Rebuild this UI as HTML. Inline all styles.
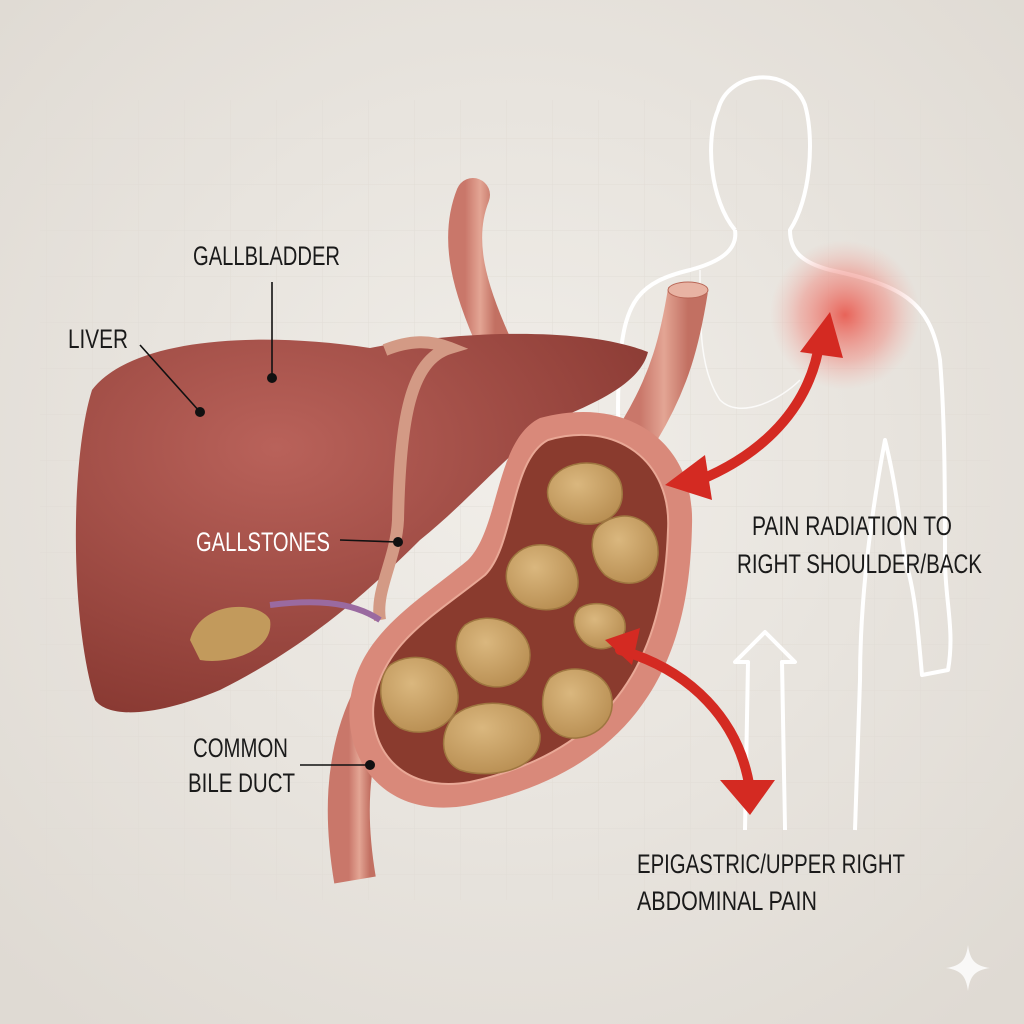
<!DOCTYPE html>
<html><head><meta charset="utf-8"><style>
html,body{margin:0;padding:0;background:#e9e5df}
svg{display:block}
text{font-family:"Liberation Sans",sans-serif;font-size:27px;fill:#1a1a1a}
</style></head><body>
<svg width="1024" height="1024" viewBox="0 0 1024 1024" xmlns="http://www.w3.org/2000/svg">
<defs>
<radialGradient id="bg" cx="50%" cy="45%" r="70%"><stop offset="0" stop-color="#f1eee9"/><stop offset="1" stop-color="#dfdad3"/></radialGradient>
<pattern id="grid" width="46" height="46" patternUnits="userSpaceOnUse"><path d="M46 0H0V46" fill="none" stroke="#e0dbd4" stroke-width="1"/></pattern>
<radialGradient id="glow"><stop offset="0" stop-color="#e8554a" stop-opacity=".9"/><stop offset=".6" stop-color="#ef8a80" stop-opacity=".5"/><stop offset="1" stop-color="#f2b0a8" stop-opacity="0"/></radialGradient>
<radialGradient id="liv" cx="35%" cy="30%" r="75%"><stop offset="0" stop-color="#b9625a"/><stop offset="1" stop-color="#8a3a33"/></radialGradient>
<linearGradient id="tube" x1="0" x2="1"><stop offset="0" stop-color="#c9776a"/><stop offset=".5" stop-color="#e3a594"/><stop offset="1" stop-color="#c27062"/></linearGradient>
<radialGradient id="stone" cx="40%" cy="35%" r="70%"><stop offset="0" stop-color="#dab77e"/><stop offset="1" stop-color="#b88e52"/></radialGradient>
</defs>
<rect width="1024" height="1024" fill="url(#bg)"/>
<rect x="40" y="100" width="950" height="800" fill="url(#grid)" opacity=".8"/>
<!-- body outline -->
<g fill="none" stroke="#fff" stroke-width="4" stroke-linejoin="round">
<path d="M735,230 C710,200 705,140 718,110 C728,70 790,65 805,105 C815,140 810,200 790,230 C790,250 800,262 830,270 C900,285 930,300 940,360 C945,420 945,500 945,560 C945,600 955,630 948,670 L922,675 C918,630 915,590 905,560 C900,520 895,480 885,440 C870,520 860,600 860,680 L855,830"/>
<path d="M735,230 C738,250 720,262 690,270 C640,282 625,300 620,360 C615,420 620,480 630,520"/>
<path d="M745,830 L748,662 L735,662 L765,632 L795,662 L782,662 L785,830"/>
<path d="M700,270 C700,330 700,370 720,400 C740,420 780,400 800,380" stroke-width="1.5" opacity=".8"/>
</g>
<circle cx="845" cy="315" r="75" fill="url(#glow)"/>
<!-- tubes -->
<path d="M473,195 C455,240 470,290 495,345" stroke="url(#tube)" stroke-width="34" fill="none" stroke-linecap="round"/>
<path d="M688,290 C680,340 670,380 640,430" stroke="url(#tube)" stroke-width="40" fill="none"/>
<ellipse cx="688" cy="290" rx="20" ry="8" fill="#e8b3a3" stroke="#b86656"/>
<path d="M370,705 C345,760 345,820 355,880" stroke="url(#tube)" stroke-width="42" fill="none"/>
<!-- liver -->
<path d="M92,390 C130,340 250,330 370,348 C450,332 580,325 648,352 C640,385 590,405 555,420 C510,450 470,500 420,540 C360,600 300,650 220,690 C160,715 110,720 95,700 C70,620 70,460 92,390Z" fill="url(#liv)"/>
<path d="M385,350 C410,340 430,340 450,348 C410,360 400,420 398,520 C396,560 375,590 380,620" stroke="#d39a85" stroke-width="12" fill="none"/>
<path d="M270,605 C310,600 350,600 380,620" stroke="#9a6aa0" stroke-width="6" fill="none"/>
<path d="M190,640 C200,600 260,600 270,620 C275,650 230,665 200,660Z" fill="#c29a5c"/>
<!-- sac -->
<path d="M540,418 C625,395 695,440 692,525 C690,625 665,765 470,805 C380,822 338,752 352,690 C365,630 420,600 468,560 C500,528 495,440 540,418Z" fill="#d9897a"/>
<path d="M548,440 C615,420 672,460 668,530 C665,620 640,745 470,782 C395,795 365,740 375,695 C388,640 435,615 485,575 C515,545 510,460 548,440Z" fill="#8a3b2e" stroke="#e9a896" stroke-width="2"/>
<g fill="url(#stone)" stroke="#9e7640" stroke-width="1.5">
<path d="M555,475 C575,455 620,460 622,490 C625,515 600,530 575,522 C548,515 540,490 555,475Z"/>
<path d="M600,525 C625,505 660,520 658,555 C656,585 625,590 605,575 C590,560 588,535 600,525Z"/>
<path d="M515,555 C535,535 575,545 578,580 C580,610 545,615 525,605 C505,595 500,570 515,555Z"/>
<path d="M580,608 C595,598 628,605 625,630 C620,650 595,655 582,640 C572,628 572,615 580,608Z"/>
<path d="M465,625 C490,608 530,625 530,655 C530,685 495,695 475,680 C455,665 450,640 465,625Z"/>
<path d="M390,665 C415,648 455,660 458,695 C460,725 425,740 400,728 C378,715 375,680 390,665Z"/>
<path d="M455,715 C480,695 535,700 540,735 C542,770 490,780 460,770 C438,760 440,730 455,715Z"/>
<path d="M550,678 C570,660 610,670 612,700 C615,730 580,745 560,735 C540,725 538,695 550,678Z"/>
</g>
<!-- red arrows -->
<g fill="none" stroke="#d42a22" stroke-width="10" stroke-linecap="round">
<path d="M700,480 C760,455 810,410 820,340"/>
<path d="M620,650 C690,670 740,720 750,790"/>
</g>
<g fill="#d42a22">
<polygon points="665,485 705,455 712,500"/>
<polygon points="830,312 800,352 843,358"/>
<polygon points="605,640 640,628 632,665"/>
<polygon points="750,815 720,780 775,780"/>
</g>
<!-- leader lines -->
<g stroke="#111" stroke-width="1.6" fill="none">
<line x1="140" y1="345" x2="200" y2="412"/>
<line x1="272" y1="282" x2="272" y2="378"/>
<line x1="340" y1="540" x2="398" y2="542"/>
<line x1="300" y1="765" x2="370" y2="765"/>
</g>
<g fill="#111"><circle cx="200" cy="412" r="5"/><circle cx="272" cy="378" r="5"/><circle cx="398" cy="542" r="5"/><circle cx="370" cy="765" r="5"/></g>
<text x="193" y="265" textLength="147" lengthAdjust="spacingAndGlyphs">GALLBLADDER</text>
<text x="68" y="348" textLength="60" lengthAdjust="spacingAndGlyphs">LIVER</text>
<text x="196" y="551" textLength="134" lengthAdjust="spacingAndGlyphs" style="fill:#fff">GALLSTONES</text>
<text x="193" y="757" textLength="95" lengthAdjust="spacingAndGlyphs">COMMON</text>
<text x="188" y="792" textLength="107" lengthAdjust="spacingAndGlyphs">BILE DUCT</text>
<text x="752" y="535" textLength="200" lengthAdjust="spacingAndGlyphs">PAIN RADIATION TO</text>
<text x="737" y="573" textLength="245" lengthAdjust="spacingAndGlyphs">RIGHT SHOULDER/BACK</text>
<text x="637" y="873" textLength="268" lengthAdjust="spacingAndGlyphs">EPIGASTRIC/UPPER RIGHT</text>
<text x="637" y="910" textLength="180" lengthAdjust="spacingAndGlyphs">ABDOMINAL PAIN</text>
<path d="M968,945 C970,960 975,966 990,968 C975,970 970,976 968,991 C966,976 961,970 946,968 C961,966 966,960 968,945Z" fill="#fff" opacity=".8"/>
</svg>
</body></html>
